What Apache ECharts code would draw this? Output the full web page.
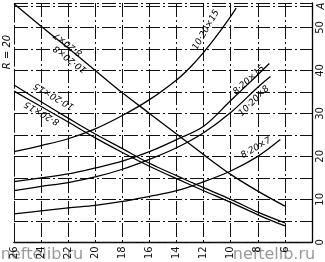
<!DOCTYPE html>
<html>
<head>
<meta charset="utf-8">
<script src="https://cdn.jsdelivr.net/npm/echarts@6/dist/echarts.min.js"></script>
<style>
  html, body { margin: 0; padding: 0; background: #fff; }
  #chart { width: 325px; height: 262px; }
</style>
</head>
<body>
<div id="chart"></div>
<script>
// x (reversed axis), shared points
var xFull = [26, 24, 22, 20, 18, 16, 14, 12, 10, 8, 6];
// descending curves
var rSteep = [55.5, 50.3, 45.2, 40.0, 34.8, 30.0, 25.2, 20.4, 15.8, 11.9, 8.4];
var r10x15 = [36.6, 32.7, 28.9, 25.2, 21.8, 18.4, 15.5, 12.7, 10.0, 7.0, 4.5];
var r8x15 = [35.2, 31.6, 28.0, 24.3, 20.9, 17.7, 14.8, 12.0, 9.3, 6.4, 3.8];
// ascending curves (current, A)
var x10x15 = [26, 24, 22, 20, 18, 16, 14, 13, 12, 11, 10, 9.6];
var i10x15 = [21.1, 22.5, 24.1, 26.4, 29.5, 33.2, 37.8, 40.7, 44.2, 48.2, 52.6, 54.5];
var x8x15 = [26, 24, 22, 20, 18, 16, 14, 12, 10, 8, 7.15];
var i8x15 = [14.1, 15.0, 15.9, 17.3, 18.9, 21.1, 23.9, 27.0, 33.0, 39.0, 41.6];
var x10x8 = [26, 24, 22, 20, 18, 16, 14, 12, 10, 8, 7.07];
var i10x8 = [12.0, 13.0, 13.9, 15.2, 17.0, 19.3, 22.0, 25.5, 30.2, 36.1, 38.6];
var x8x7 = [26, 24, 22, 20, 18, 16, 14, 12, 10, 8, 6.34];
var i8x7 = [6.6, 7.3, 8.0, 8.6, 9.5, 10.7, 12.0, 14.1, 16.6, 20.0, 23.9];
// tick labels
var xLabels = [26, 24, 22, 20, 18, 16, 14, 12, 10, 8, 6];
var yLabels = [0, 10, 20, 30, 40, 50];

function pairs(xs, ys) {
  return xs.map(function (x, i) { return [x, ys[i]]; });
}

var gridDash = { color: '#111', width: 1, type: [14, 3, 2, 3] };
var font = '"DejaVu Sans", sans-serif';

function curve(xs, ys) {
  return {
    type: 'line',
    data: pairs(xs, ys),
    smooth: 0.35,
    symbol: 'none',
    lineStyle: { color: '#000', width: 1.3 },
    silent: true
  };
}

var chart = echarts.init(document.getElementById('chart'));
chart.setOption({
  animation: false,
  backgroundColor: '#fff',
  grid: { left: 14, right: 10, top: 0, bottom: 17 },
  xAxis: [{
    type: 'value',
    inverse: true,
    min: 4, max: 26, interval: 2,
    axisLine: { show: true, onZero: false, lineStyle: { color: '#000', width: 1.3 } },
    axisTick: { show: false },
    splitLine: { show: true, lineStyle: gridDash },
    axisLabel: {
      rotate: 90, margin: 4, fontSize: 10, fontFamily: font, color: '#111',
      formatter: function (v) { return xLabels.indexOf(v) >= 0 ? String(v) : ''; }
    }
  }, {
    type: 'value', position: 'top', inverse: true,
    min: 4, max: 26,
    axisLine: { show: true, lineStyle: gridDash },
    axisTick: { show: false }, axisLabel: { show: false }, splitLine: { show: false }
  }],
  yAxis: [{
    type: 'value',
    position: 'right',
    min: 0, max: 55.7, interval: 5,
    axisLine: { show: true, onZero: false, lineStyle: { color: '#000', width: 1.3 } },
    axisTick: { show: false },
    splitLine: { show: true, lineStyle: gridDash },
    axisLabel: {
      rotate: 90, margin: 3, fontSize: 10, fontFamily: font, color: '#111',
      formatter: function (v) { return yLabels.indexOf(v) >= 0 ? String(v) : ''; }
    }
  }, {
    type: 'value', position: 'left',
    min: 0, max: 55.7,
    axisLine: { show: true, lineStyle: gridDash },
    axisTick: { show: false }, axisLabel: { show: false }, splitLine: { show: false }
  }],
  series: [
    curve(xFull, rSteep),
    curve(xFull, r10x15),
    curve(xFull, r8x15),
    curve(x10x15, i10x15),
    curve(x8x15, i8x15),
    curve(x10x8, i10x8),
    curve(x8x7, i8x7)
  ]
});

function deg(d) { return d * Math.PI / 180; }
function note(txt, x, y, rot, size) {
  return {
    type: 'text', x: x, y: y, rotation: deg(rot), silent: true,
    style: {
      text: txt, fill: '#000', font: 'italic ' + (size || 9) + 'px ' + font,
      align: 'center', verticalAlign: 'middle'
    }
  };
}

chart.setOption({
  graphic: [
    note('10·20×15', 206, 30, 60),
    note('8·20×15', 249, 80, 42),
    note('10·20×8', 254, 101, 45),
    note('8·20×7', 256, 148, 30),
    note('8·20×7', 68, 44, 143),
    note('10·20×8', 70, 59, 143),
    note('10·20×15', 54, 96, 150),
    note('8·20×15', 42, 113, 150),
    note('R = 20', 7, 52, 90, 10),
    note('A', 321, 6, 90, 10),
    {
      type: 'text', x: 42, y: 255, silent: true,
      style: { text: 'neftelib.ru', fill: '#9a9a9a', font: '16px ' + font,
               align: 'center', verticalAlign: 'middle' }
    },
    {
      type: 'text', x: 274, y: 255, silent: true,
      style: { text: 'neftelib.ru', fill: '#9a9a9a', font: '16px ' + font,
               align: 'center', verticalAlign: 'middle' }
    }
  ]
});
</script>
</body>
</html>
